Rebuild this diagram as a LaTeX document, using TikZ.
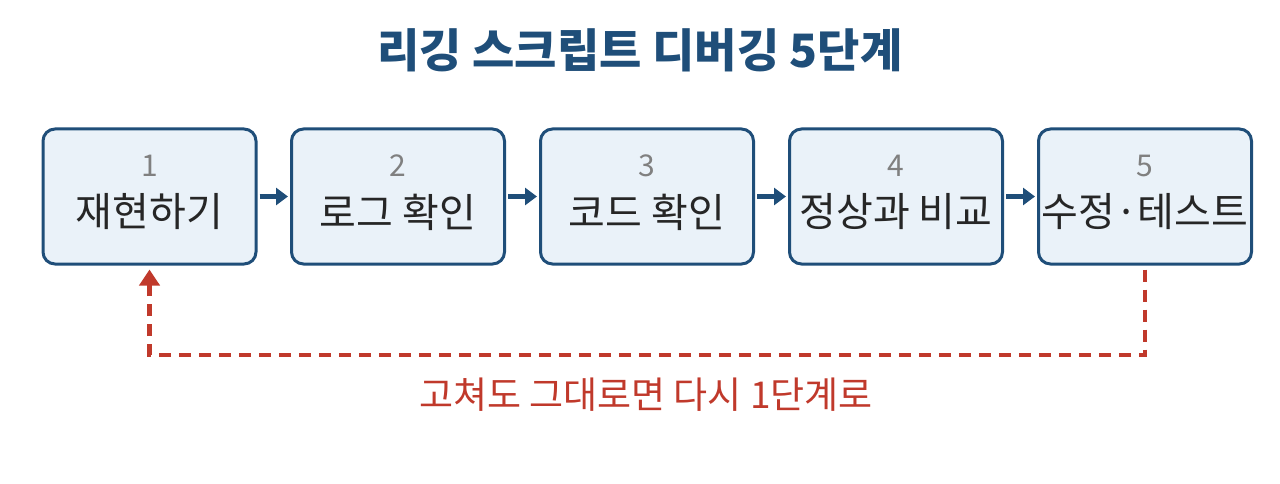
\documentclass[tikz,border=0pt]{standalone}
\usepackage{fontspec}
\setmainfont{Noto Sans CJK KR}
\usetikzlibrary{arrows.meta}
\definecolor{dblue}{HTML}{1F4E79}
\definecolor{lblue}{HTML}{EAF2F9}
\definecolor{dred}{HTML}{C0392B}
\begin{document}
\begin{tikzpicture}[x=1pt,y=1pt,
 box/.style={draw=dblue,line width=3pt,fill=lblue,rounded corners=12pt,minimum width=213pt,minimum height=135pt,inner sep=0pt},
 num/.style={text=gray,font=\fontsize{30}{34}\selectfont},
 lab/.style={font=\fontsize{40}{44}\selectfont,text=black!85},
 arr/.style={dblue,line width=5pt,-{Triangle[length=12pt,width=17pt]},shorten >=2pt,shorten <=2pt}]
\useasboundingbox (0,0) rectangle (1280,-484);
\node[font=\bfseries\fontsize{46}{50}\selectfont,text=dblue] (title) at (640,-50) {리깅 스크립트 디버깅 5단계};
\foreach \i/\x/\t in {1/149.5/재현하기,2/398/로그 확인,3/647/코드 확인,4/896/정상과 비교,5/1145/수정·테스트}{
 \node[box] (b\i) at (\x,-196.5) {};
 \node[num] (n\i) at (\x,-166) {\i};
 \node[lab] (l\i) at (\x,-212) {\t};
}
\foreach \a/\b in {1/2,2/3,3/4,4/5}{\draw[arr] (b\a.east) -- (b\b.west);}
\coordinate (c1) at (1145,-355);
\coordinate (c2) at (149.5,-355);
\draw[dred,line width=4.5pt,dash pattern=on 12pt off 8pt,-{Triangle[length=16pt,width=20pt]}] (b5.south) ++(0,-4) -- (c1) -- (c2) -- ([yshift=-4pt]b1.south);
\node[text=dred,font=\fontsize{37}{40}\selectfont] (note) at (646,-395) {고쳐도 그대로면 다시 1단계로};
\end{tikzpicture}
\end{document}
